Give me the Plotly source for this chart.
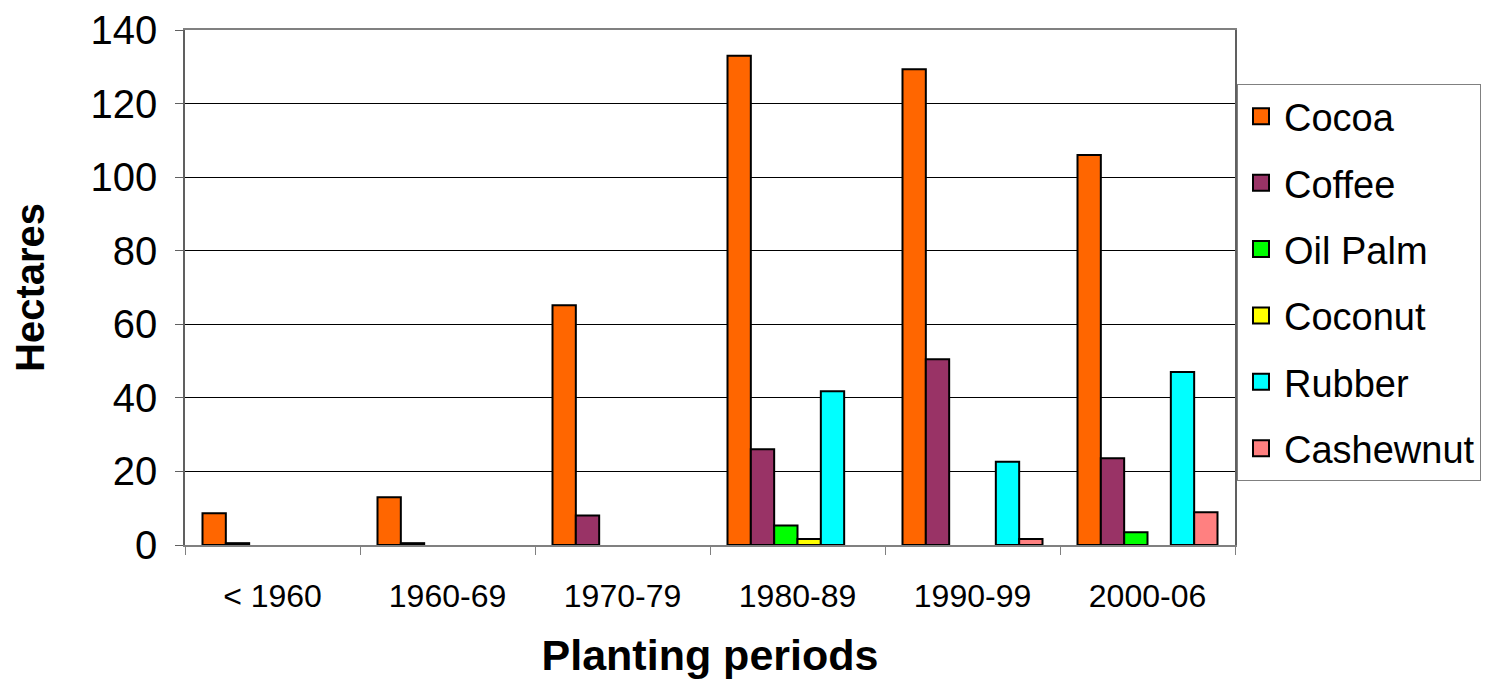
import plotly.graph_objects as go

# Data
periods = ["< 1960", "1960-69", "1970-79", "1980-89", "1990-99", "2000-06"]
cocoa = [8.6, 13.0, 65.2, 133.0, 129.3, 106.0]
coffee = [0.5, 0.5, 8.0, 26.0, 50.5, 23.6]
oil_palm = [None, None, None, 5.3, None, 3.5]
coconut = [None, None, None, 1.6, None, None]
rubber = [None, None, None, 41.8, 22.6, 47.0]
cashewnut = [None, None, None, None, 1.6, 8.9]

series = [
    ("Cocoa", cocoa, "#FF6600"),
    ("Coffee", coffee, "#993366"),
    ("Oil Palm", oil_palm, "#00FF00"),
    ("Coconut", coconut, "#FFFF00"),
    ("Rubber", rubber, "#00FFFF"),
    ("Cashewnut", cashewnut, "#FF8080"),
]

font_family = "Liberation Sans, Arial, sans-serif"

# Plot area is 1050 px wide; the paper extends further right to hold the legend
plot_w = 1050
paper_w = 1150
x_domain_end = plot_w / paper_w
legend_x = (plot_w + 2) / paper_w

fig = go.Figure()
for i, (name, values, color) in enumerate(series):
    fig.add_trace(
        go.Bar(
            x=periods,
            y=values,
            name=name,
            showlegend=False,
            marker=dict(color=color, line=dict(color="black", width=2)),
        )
    )

# Legend proxies with larger square swatches
for i, (name, values, color) in enumerate(series):
    fig.add_trace(
        go.Scatter(
            x=[None],
            y=[None],
            name=name,
            legendgroup=f"g{i}",
            mode="markers",
            marker=dict(symbol="square", size=21, color=color,
                        line=dict(color="black", width=2)),
            showlegend=True,
        )
    )

fig.update_layout(
    width=1487,
    height=679,
    barmode="group",
    bargap=0.2,
    bargroupgap=0,
    plot_bgcolor="white",
    paper_bgcolor="white",
    font=dict(family=font_family, color="black"),
    margin=dict(l=177, r=1487 - 177 - paper_w, t=22, b=142),
    showlegend=True,
    legend=dict(
        x=legend_x,
        y=0.895,
        xanchor="left",
        yanchor="top",
        bgcolor="white",
        bordercolor="#808080",
        borderwidth=1,
        font=dict(size=38, family=font_family, color="black"),
        tracegroupgap=14,
        itemwidth=36,
    ),
    xaxis=dict(
        type="category",
        domain=[0, x_domain_end],
        automargin=False,
        showline=True,
        linecolor="#808080",
        linewidth=1.5,
        mirror=True,
        ticks="outside",
        tickson="boundaries",
        ticklen=8,
        tickcolor="#808080",
        tickfont=dict(size=32),
        ticklabelstandoff=22,
        title=dict(
            text="<b>Planting periods</b>",
            font=dict(size=43),
            standoff=27,
        ),
    ),
    yaxis=dict(
        range=[0, 140],
        dtick=20,
        automargin=False,
        showgrid=True,
        gridcolor="black",
        gridwidth=1,
        showline=True,
        linecolor="#606060",
        linewidth=1.5,
        mirror=True,
        ticks="outside",
        ticklen=8,
        tickcolor="#606060",
        tickfont=dict(size=40),
        ticklabelstandoff=10,
        zeroline=False,
        title=dict(
            text="<b>Hectares</b>",
            font=dict(size=40),
            standoff=36,
        ),
    ),
)

fig.write_html("out.html")
